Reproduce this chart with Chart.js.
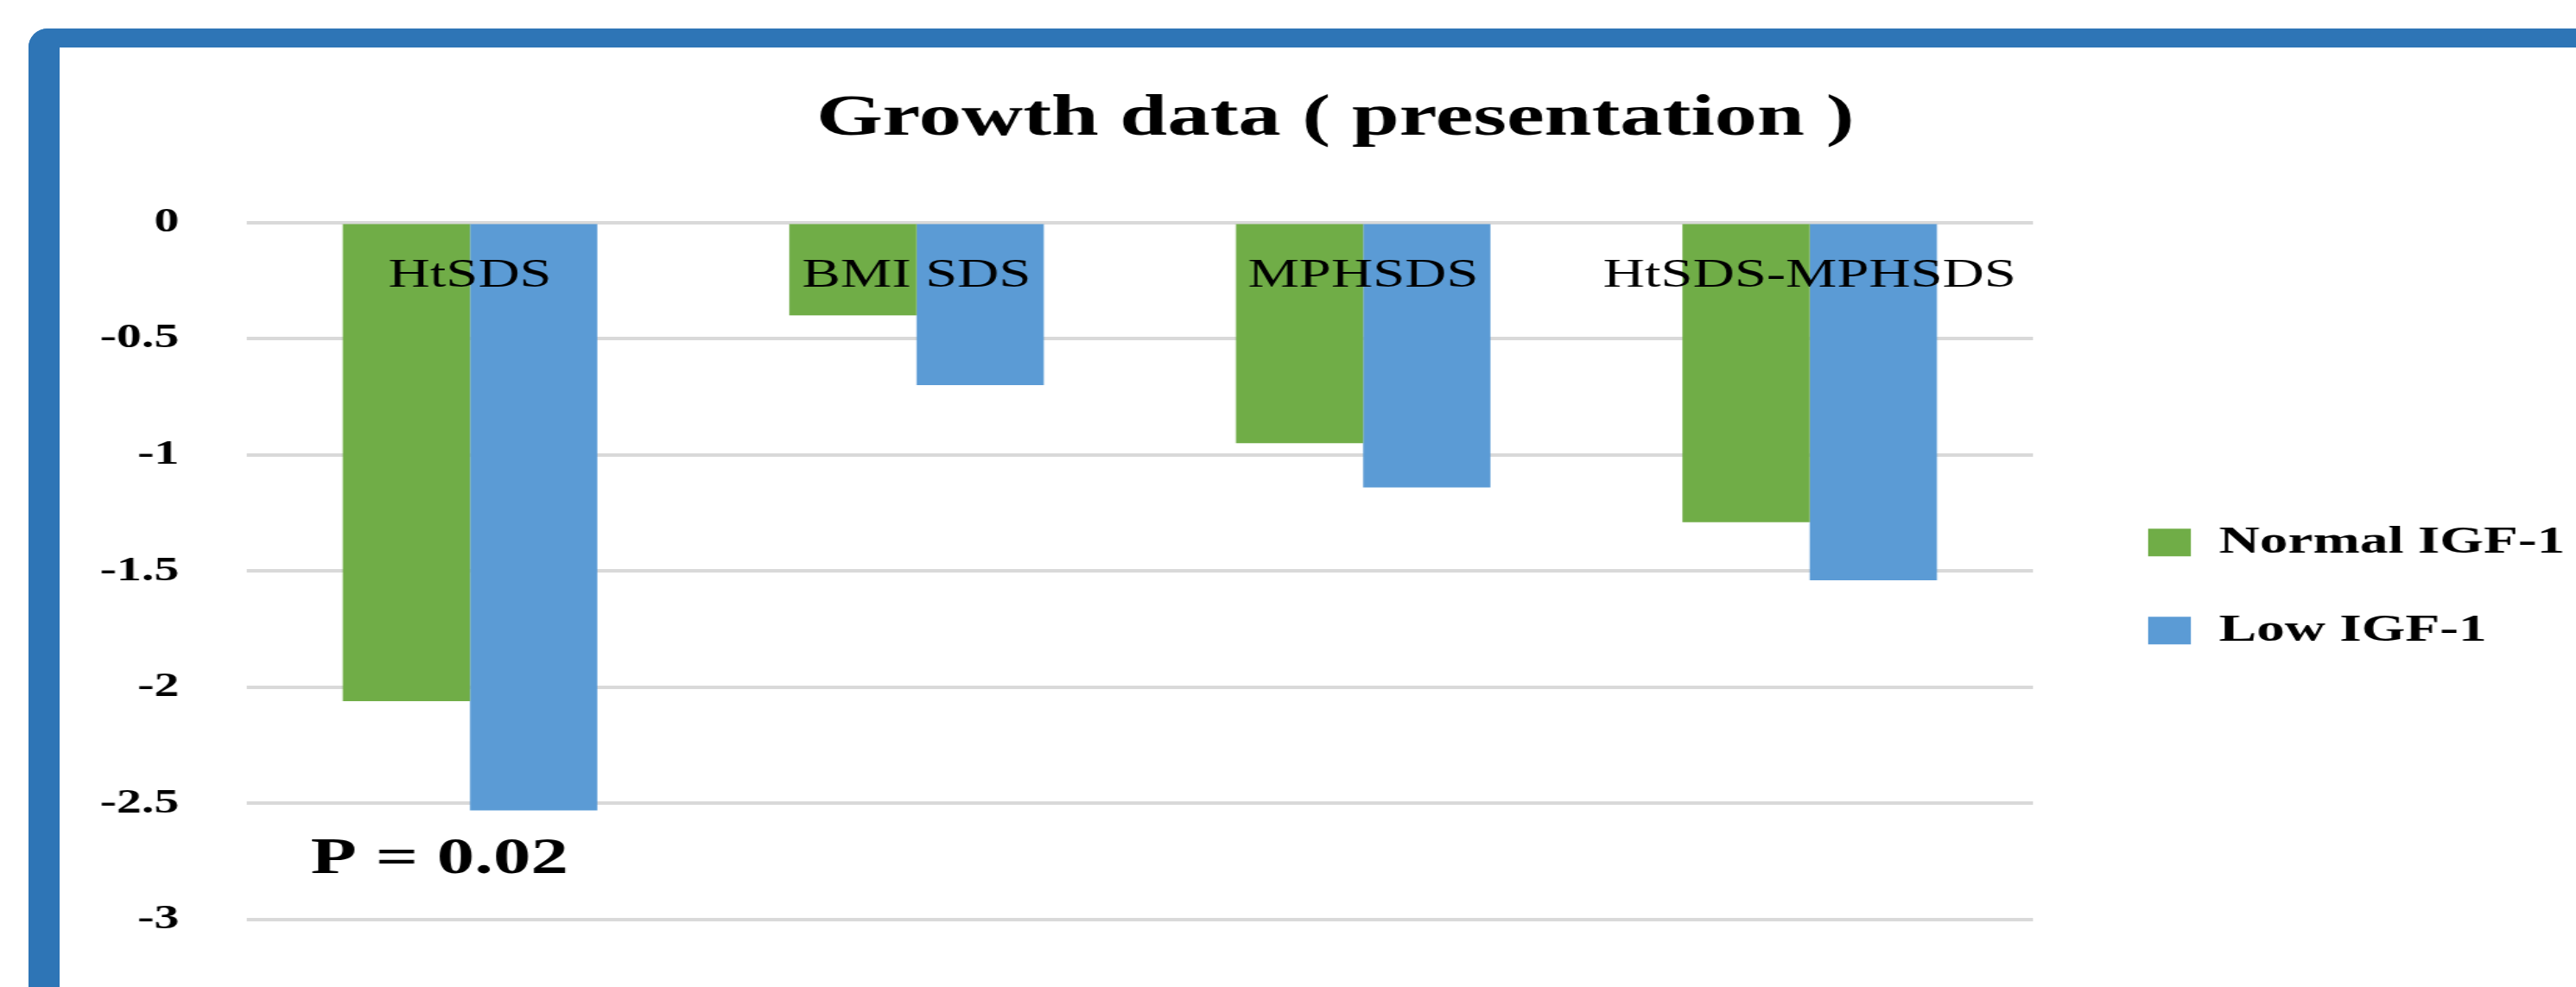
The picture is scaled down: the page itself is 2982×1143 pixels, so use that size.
<!DOCTYPE html>
<html>
<head>
<meta charset="utf-8">
<title>Growth data ( presentation )</title>
<script src="https://cdn.jsdelivr.net/npm/chart.js@4.4.1/dist/chart.umd.min.js"></script>
<style>
  html, body { margin: 0; padding: 0; background: #fff; overflow: hidden; }
  #frame {
    position: absolute; left: 33px; top: 33px; width: 3100px; height: 1300px;
    box-sizing: border-box;
    border-top: 22px solid #2E75B6; border-left: 36px solid #2E75B6;
    border-top-left-radius: 22px;
  }
  /* the source picture is stretched sideways, so the canvas is too */
  #wrap {
    position: absolute; left: 0; top: 0; width: 2057px; height: 1143px;
    transform: scaleX(1.45); transform-origin: 0 0;
  }
</style>
</head>
<body>
<div id="frame"></div>
<div id="wrap"><canvas id="graph" width="2057" height="1143"></canvas></div>
<script>
const categories = ['HtSDS', 'BMI SDS', 'MPHSDS', 'HtSDS-MPHSDS'];
const normalIGF1 = [-2.06, -0.4, -0.95, -1.29];
const lowIGF1 = [-2.53, -0.7, -1.14, -1.54];
const yTicks = [0, -0.5, -1, -1.5, -2, -2.5, -3];
const pValueText = 'P = 0.02';

const serif = '"Liberation Serif", "Times New Roman", serif';

// category names sit just under the zero line, over the bars
const categoryLabels = {
    id: 'categoryLabels',
    afterDatasetsDraw(chart) {
        const {ctx, chartArea, scales: {x, y}} = chart;
        ctx.save();
        ctx.fillStyle = '#000';
        ctx.font = '46px ' + serif;
        ctx.textAlign = 'center';
        ctx.textBaseline = 'alphabetic';
        categories.forEach((c, i) => {
            ctx.fillText(c, x.getPixelForValue(i), y.getPixelForValue(0) + 74);
        });
        ctx.font = 'bold 60px ' + serif;
        ctx.textAlign = 'left';
        ctx.fillText(pValueText, chartArea.left + 51, y.getPixelForValue(-2.8));
        ctx.restore();
    }
};

const ctx = document.getElementById('graph').getContext('2d');
const growthChart = new Chart(ctx, {
    type: 'bar',
    data: {
        labels: categories,
        datasets: [{
            label: 'Normal IGF-1',
            data: normalIGF1,
            backgroundColor: '#70AD47',
            borderWidth: 0
        }, {
            label: 'Low IGF-1',
            data: lowIGF1,
            backgroundColor: '#5B9BD5',
            borderWidth: 0
        }]
    },
    options: {
        responsive: false,
        animation: false,
        devicePixelRatio: 1,
        datasets: {
            bar: {
                categoryPercentage: 0.57,
                barPercentage: 1.0
            }
        },
        layout: {
            padding: { left: 75, right: 0, top: 0, bottom: 48 }
        },
        scales: {
            x: {
                display: false
            },
            y: {
                min: -3,
                max: 0,
                afterBuildTicks: (scale) => {
                    scale.ticks = yTicks.map(v => ({ value: v }));
                },
                afterFit: (scale) => { scale.width = 122; },
                grid: {
                    color: '#D9D9D9',
                    lineWidth: 4,
                    drawTicks: false
                },
                border: { display: false },
                ticks: {
                    padding: 54,
                    color: '#000',
                    font: { family: serif, size: 40, weight: 'bold' },
                    callback: (value) => String(value)
                }
            },
            // empty gap between the plot and the legend
            spacer: {
                type: 'linear',
                position: 'right',
                display: true,
                grid: { display: false },
                border: { display: false },
                ticks: { display: false },
                afterFit: (scale) => { scale.width = 35; }
            }
        },
        plugins: {
            title: {
                display: true,
                text: 'Growth data ( presentation )',
                color: '#000',
                font: { family: serif, size: 68, weight: 'bold' },
                padding: { top: 98, bottom: 78 }
            },
            legend: {
                position: 'right',
                align: 'center',
                fullSize: false,
                maxWidth: 399,
                title: {
                    display: true,
                    text: ' ',
                    font: { size: 10 },
                    padding: { top: 24, bottom: 0 }
                },
                labels: {
                    color: '#000',
                    font: { family: serif, size: 45, weight: 'bold' },
                    boxWidth: 34,
                    boxHeight: 32,
                    padding: 57
                }
            },
            tooltip: { enabled: false }
        }
    },
    plugins: [categoryLabels]
});
</script>
</body>
</html>
